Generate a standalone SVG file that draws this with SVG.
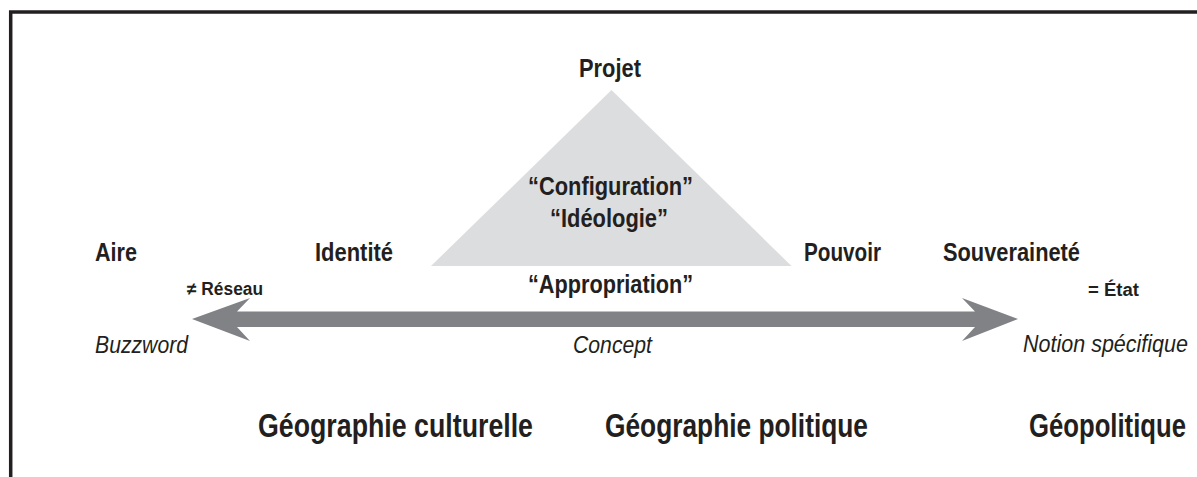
<svg xmlns="http://www.w3.org/2000/svg" width="1197" height="477" viewBox="0 0 1197 477">
<style>
text{font-family:"Liberation Sans Narrow","Liberation Sans",Arial,sans-serif;fill:#231f20}
.b{font-weight:bold}
.l{font-size:25.5px}
.s{font-size:18px}
.i{font-style:italic;font-size:23px}
.t{font-size:33px}
</style>
<rect width="1197" height="477" fill="#ffffff"/>
<polyline points="10.7,477 10.7,12 1197,12" fill="none" stroke="#231f20" stroke-width="3.5"/>
<g id="triangle"><polygon points="611.5,90 431,266 791.5,266" fill="#dcddde"/></g>
<g id="connectors">
<polygon points="192,319 250,298 237,311.5 975,311.5 962,298 1018,319 962,341 975,327 237,327 250,341" fill="#808285"/>
</g>
<g id="projet"><text class="b l" x="579" y="77" textLength="62" lengthAdjust="spacingAndGlyphs">Projet</text></g>
<g id="configuration"><text class="b l" x="528" y="195" textLength="165" lengthAdjust="spacingAndGlyphs">“Configuration”</text></g>
<g id="ideologie"><text class="b l" x="550" y="227" textLength="118" lengthAdjust="spacingAndGlyphs">“Idéologie”</text></g>
<g id="appropriation"><text class="b l" x="528" y="293" textLength="165" lengthAdjust="spacingAndGlyphs">“Appropriation”</text></g>
<g id="aire"><text class="b l" x="95" y="261" textLength="42" lengthAdjust="spacingAndGlyphs">Aire</text></g>
<g id="identite"><text class="b l" x="315" y="261" textLength="78" lengthAdjust="spacingAndGlyphs">Identité</text></g>
<g id="pouvoir"><text class="b l" x="804" y="261" textLength="77" lengthAdjust="spacingAndGlyphs">Pouvoir</text></g>
<g id="souverainete"><text class="b l" x="943" y="261" textLength="137" lengthAdjust="spacingAndGlyphs">Souveraineté</text></g>
<g id="reseau"><text class="b s" x="187" y="295" textLength="76" lengthAdjust="spacingAndGlyphs">≠ Réseau</text></g>
<g id="etat"><text class="b s" x="1088" y="296" textLength="51" lengthAdjust="spacingAndGlyphs">= État</text></g>
<g id="buzzword"><text class="i" x="95" y="353" textLength="93" lengthAdjust="spacingAndGlyphs">Buzzword</text></g>
<g id="concept"><text class="i" x="573" y="353" textLength="79" lengthAdjust="spacingAndGlyphs">Concept</text></g>
<g id="notion"><text class="i" x="1023" y="352" textLength="165" lengthAdjust="spacingAndGlyphs">Notion spécifique</text></g>
<g id="geo-culturelle"><text class="b t" x="258" y="437" textLength="275" lengthAdjust="spacingAndGlyphs">Géographie culturelle</text></g>
<g id="geo-politique"><text class="b t" x="605" y="437" textLength="263" lengthAdjust="spacingAndGlyphs">Géographie politique</text></g>
<g id="geopolitique"><text class="b t" x="1029" y="437" textLength="157" lengthAdjust="spacingAndGlyphs">Géopolitique</text></g>
</svg>
